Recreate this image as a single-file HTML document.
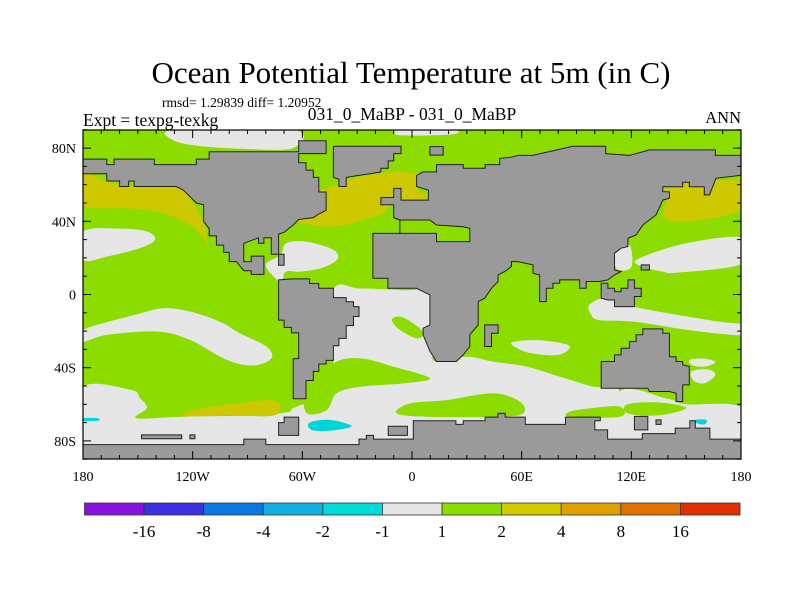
<!DOCTYPE html>
<html><head><meta charset="utf-8"><style>
html,body{margin:0;padding:0;background:#fff;}
svg{display:block;font-family:"Liberation Serif",serif;}
</style></head><body>
<svg id="chart" width="800" height="600" viewBox="0 0 800 600" xmlns="http://www.w3.org/2000/svg">
<text x="411" y="83" font-size="31" text-anchor="middle">Ocean Potential Temperature at 5m (in C)</text>
<text x="162" y="107" font-size="13.5">rmsd= 1.29839 diff= 1.20952</text>
<text x="83" y="126" font-size="17.5">Expt = texpg-texkg</text>
<text x="412" y="120" font-size="17.5" text-anchor="middle">031_0_MaBP - 031_0_MaBP</text>
<text x="741" y="123" font-size="16.5" text-anchor="end">ANN</text>
<defs><clipPath id="plotclip"><rect x="83" y="130" width="658" height="329"/></clipPath></defs>
<g id="field" clip-path="url(#plotclip)"></g>
<g id="land" clip-path="url(#plotclip)"></g>
<g id="axes"></g>
<g id="cbar"></g>
</svg>
<script>
const levels = ["-16","-8","-4","-2","-1","1","2","4","8","16"];
const cbarColors = ["#8a10e0","#3a30e0","#0a78e0","#10b0e0","#00dcd8","#e6e6e6","#8cdc00","#d4cc00","#e0a000","#e07000","#e03000"];
const lonTicks = [-180,-120,-60,0,60,120,180];
const lonLabels = ["180","120W","60W","0","60E","120E","180"];
const latTicks = [80,40,0,-40,-80];
const latLabels = ["80N","40N","0","40S","80S"];

const GREEN="#8cdc00", WHITE="#e6e6e6", YELLOW="#cdc800", CYAN="#00d4d8", LAND="#9a9a9a";

const whiteArctic = [[-130,90],[-65,90],[-65,80],[-90,79.5],[-115,81],[-130,84]];
const whiteArctic2 = [[-6.6,90],[22,90],[22,87.5],[-6.6,87]];
const whiteNPacW = [[-180,34.4],[-160,36],[-145,34.4],[-140.6,29.8],[-149,25.3],[-167,20.7],[-180,19]];
const whiteNPacE = [[124.4,19.8],[150,28],[181,31],[181,17],[146,12],[137,12.5],[124,16]];
const whiteJapan = [[110.8,25],[119,27],[120,15],[112,14]];
const whiteCarib = [[-80,16],[-72,21.6],[-68.8,28],[-57.8,28.9],[-43,24.4],[-41,19],[-50,14.3],[-61,12.5],[-69,12.5],[-72,7]];
const whiteSAtl = [[-43,2.4],[-28.4,3.3],[-6.5,2.4],[9.9,0.6],[9.9,-19.4],[11,-32.2],[13.5,-36.7],[29.9,-34],[44.5,-36.7],[62.7,-39.4],[81,-44.9],[99.2,-50.4],[113.8,-53.1],[113.8,-83],[-83,-83],[-83,-65.9],[-72,-64.9],[-57.6,-61.3],[-44.8,-54],[-43,-35.8]];
const whiteSEPac = [[-180,-19.3],[-151.6,-11.1],[-136.1,-7.5],[-121.5,-9.3],[-105.2,-14.8],[-94.2,-21.2],[-79.7,-28.4],[-76.9,-34.8],[-87,-38.8],[-101.5,-35.7],[-121.5,-24.8],[-139.7,-20.2],[-167,-22.1],[-180,-25.7]];
const whiteSPac = [[-181,-51.2],[-154,-52],[-148.8,-56.6],[-145,-62],[-150.6,-67.6],[-123.4,-66.7],[-72.4,-65.7],[-65,-62],[-57,-62],[-57,-85],[-181,-85]];
const whiteSInd = [[113.8,-53],[140,-57],[150,-60],[181,-62],[181,-85],[113.8,-85]];
const whiteIndBlob = [[55,-26],[70,-25],[86,-28],[80,-33],[65,-32],[57,-29]];
const whiteEqWPac = [[97,-5.7],[106,-2],[121,-6.6],[144.5,-11],[168,-14.8],[181,-16.6],[181,-22],[166,-21.2],[144.5,-18.4],[121,-14.8],[102.6,-14],[98,-11]];
const whiteAus1 = [[152,-35.7],[160,-35],[166,-37],[160,-39.4],[153,-38.5]];
const whiteAus2 = [[153,-42],[162,-41],[166,-44],[160,-48.5],[154,-47]];
const greenG1 = [[-57.6,-64.9],[-57.6,-52.2],[-43,-37.6],[-28.4,-34.9],[-10.2,-39.4],[9.9,-45.8],[-4.7,-48.6],[-28.4,-50.4],[-41.2,-54],[-46.6,-63.1]];
const greenG2 = [[-8.4,-64.9],[-1.1,-59.5],[19,-57.7],[44.5,-54],[59.1,-58.6],[60.9,-64.9],[48.2,-66.8],[8,-66.8]];
const greenG3 = [[86.4,-64],[99,-62],[113.8,-61.3],[113.8,-66.8],[86.4,-66.8]];
const greenG4 = [[-11.1,-14],[-6.5,-12.1],[0.8,-15.8],[6.2,-21.2],[2.6,-24],[-6.5,-19.4]];
const greenG5 = [[118,-60],[135,-59],[150,-62],[135,-66],[118,-65]];
const yellowNPacW = [[-181,66],[-167,61.7],[-152,59],[-129,59],[-121.5,52.6],[-114.3,39.8],[-111.5,27],[-114,31],[-121.5,38],[-136,44.4],[-154.5,47],[-181,49]];
const yellowNPacE = [[139,50.7],[141,59.8],[181,61.7],[181,47],[157,40.5],[139,41]];
const yellowNAtl = [[-62,40],[-54,45],[-51,56],[-43,59],[-36,62],[-25,65],[-10,67],[3,66],[6,62],[3,57],[9,54],[5,51],[-2,49],[-13,48],[-16,44],[-26,41],[-36,38],[-47,37],[-58,38.5]];
const yellowSPac = [[-123,-64],[-100,-60],[-75,-58],[-75,-66],[-100,-66],[-123,-66.5]];
const cyanWeddell = [[-56,-70],[-45,-68.5],[-33,-72],[-45,-74.5],[-55,-74]];
const cyanRoss = [[-181,-67.6],[-172,-67.6],[-172,-69],[-181,-69]];
const cyanEast = [[155,-68.5],[161,-68.5],[160,-71],[155,-70]];

const landNA = [[-181,74],[-167,74],[-167,71],[-163,71],[-163,74],[-141,74],[-141,71],[-118,71],[-118,74],[-111,74],[-111,78],[-62,78],[-62,84],[-47,84],[-47,77],[-62,77],[-62,72],[-58,72],[-58,68],[-54,68],[-54,64],[-51,64],[-51,56],[-47,56],[-47,46],[-51,44],[-54,42],[-62,41],[-65,38],[-70,34],[-73,33],[-73,22],[-77,22],[-77,31],[-81,31],[-81,28],[-84,28],[-84,31],[-92,28],[-92,18],[-88,18],[-88,21],[-81,21],[-81,11],[-88,11],[-88,13],[-92,13],[-96,18],[-100,18],[-100,23],[-103,23],[-103,27],[-107,27],[-107,32],[-111,32],[-111,36],[-114,40],[-114,49],[-118,50],[-121,53],[-125,57],[-129,59],[-152,59],[-152,62],[-155,62],[-155,59],[-160,59],[-160,62],[-167,62],[-167,66],[-181,66]];
const landCuba = [[-73,22],[-70,22],[-70,16],[-73,16]];
const landSA = [[-73,8],[-65,8.5],[-56,8.5],[-56,6],[-51,6],[-51,3.4],[-43,3.4],[-43,-1.7],[-36,-1.7],[-36,-4],[-32,-4],[-32,-6.6],[-29,-6.6],[-29,-12],[-32,-12],[-32,-17],[-36,-17],[-36,-24],[-40,-24],[-40,-28],[-43,-28],[-43,-36],[-47,-36],[-47,-38],[-51,-38],[-51,-42],[-54,-42],[-54,-47],[-58,-47],[-58,-57],[-65,-57],[-65,-35],[-62,-35],[-62,-21],[-66,-21],[-66,-18],[-70,-18],[-70,-14],[-73,-14]];
const landGreenland = [[-43,77],[-43,81],[-6,81],[-6,77],[-10,77],[-10,73],[-13,73],[-13,69],[-17,69],[-17,67],[-23,66],[-30,65],[-36,64],[-36,59],[-40,59],[-40,63],[-43,64]];
const landEurasiaAfrica = [[-21.4,33.4],[-21.4,8.9],[-13.2,8.9],[-13.2,3.4],[2.5,3.4],[6.1,1.6],[9.8,-0.2],[9.8,-16.6],[6.1,-18.4],[6.1,-22],[9.8,-31],[13.4,-36.6],[24.3,-36.6],[28,-33],[31.6,-28.4],[31.6,-22],[36.2,-16.6],[36.2,-3.9],[39.8,-2],[43.5,3.4],[47.1,7.1],[47.1,10.7],[50.7,12.5],[54.4,15.3],[54.4,18],[58,18],[66.2,16.2],[66.2,11.6],[69.8,10.7],[69.8,-3.9],[73.5,-3.9],[73.5,3.4],[77.1,3.4],[77.1,6.2],[80.8,6.2],[80.8,8],[91.7,8],[91.7,3.4],[95.3,3.4],[95.3,7.1],[102.6,7.1],[107.2,8],[110.8,10.7],[114.4,12.5],[110.8,13.4],[110.8,22.5],[114.4,25.3],[118.1,26.2],[118.1,30.7],[122.6,32.5],[126.3,38],[129.9,40.7],[133.5,43.5],[137.2,51.6],[140.8,52.6],[140.8,56.2],[137.2,56.2],[137.2,58.9],[148.1,58.9],[148.1,61.3],[151.7,61.3],[151.7,58.9],[159.9,58.9],[159.9,54.4],[162.7,54.4],[164.5,58.9],[166.3,63.5],[181,65.3],[181,76],[166,76],[166,79],[130,79],[119,76],[106,77],[106,81],[88,81],[66,76],[58,76],[54,75],[48,74.4],[48,71],[40,71],[40,69],[28,69],[28,71],[13.4,71],[13.4,67],[6,67],[2.5,65],[2.5,59],[9,57],[9,51.6],[-1,51.6],[-6,51.6],[-6,58],[-10,58],[-10,53],[-17,53],[-17,49],[-10,49],[-10,42],[-6.6,40.7],[-6.6,33.4]];
const seaMed = [[-6.6,40.7],[9.8,40.7],[13.4,38],[28,37],[31.6,36.2],[31.6,28.9],[13.4,28.9],[13.4,33.4],[-6.6,33.4]];
const landSvalbard = [[9.8,80.8],[17,80.8],[17,76.2],[9.8,76.2]];
const landMadagascar = [[39.8,-16.6],[47.1,-16.6],[47.1,-21.2],[43.5,-21.2],[43.5,-28.4],[39.8,-28.4]];
const landIndonesia = [[103.5,6.2],[107.2,6.2],[107.2,3.4],[110.8,3.4],[110.8,1.6],[114.4,1.6],[114.4,3.4],[118.1,3.4],[118.1,8],[121.7,8],[121.7,3.4],[125.4,3.4],[125.4,-1.1],[121.7,-1.1],[121.7,-6.6],[110.8,-6.6],[110.8,-3],[107.2,-3],[103.5,-2]];
const landPhil = [[125.4,16.2],[129.9,16.2],[129.9,13.4],[125.4,13.4]];
const landAustralia = [[103.5,-36.6],[110.8,-36.6],[110.8,-33],[114.4,-33],[114.4,-29.4],[119,-29.4],[119,-25.7],[122.6,-25.7],[122.6,-22],[126.3,-22],[126.3,-18.8],[137.2,-18.8],[137.2,-21.2],[140.8,-21.2],[140.8,-34],[144.5,-34],[144.5,-36.6],[148.1,-36.6],[148.1,-38.4],[151.7,-39.3],[151.7,-49.4],[148.1,-49.4],[148.1,-58.5],[144.5,-58.5],[144.5,-54],[140.8,-53],[129.9,-53],[129,-51.2],[103.5,-51.2]];
const landAntarctica = [[-181,-82],[-92,-82],[-92,-79],[-80,-79],[-80,-82],[-29,-82],[-29,-79],[-25,-79],[-25,-77],[-21,-77],[-21,-79],[0.7,-79],[0.7,-69],[24,-69],[24,-71],[28,-71],[28,-69],[40,-69],[40,-67],[47,-67],[47,-65],[51,-65],[51,-67],[62,-67],[62,-71],[84,-71],[84,-67],[103,-67],[103,-69],[100,-69],[100,-74],[107,-74],[107,-79],[126,-79],[126,-76],[144,-76],[144,-73],[152,-73],[152,-69],[155,-69],[155,-73],[163,-73],[163,-79],[181,-79],[181,-92],[-181,-92]];
const landPeninsula = [[-73,-70],[-70,-70],[-70,-67],[-62,-67],[-62,-77],[-73,-77]];
const landIsleA = [[-13,-72],[-2.5,-72],[-2.5,-77],[-13,-77]];
const landIsleB = [[-148,-76.7],[-126,-76.7],[-126,-78.8],[-148,-78.8]];
const landIsleC = [[-121.5,-76.7],[-118.8,-76.7],[-118.8,-78.8],[-121.5,-78.8]];
const landIsleD = [[121.7,-66.6],[129,-66.6],[129,-74],[121.7,-74]];
const landIsleE = [[133.5,-68.5],[136.3,-68.5],[136.3,-71],[133.5,-71]];

const X0=83, X1=741, YEQ=294.5, KY=1.83;
function xOf(lon){return X0+(lon+180)*(X1-X0)/360;}
function yOf(lat){return YEQ-lat*KY;}
const NS="http://www.w3.org/2000/svg";
function mk(tag,attrs,parent){const e=document.createElementNS(NS,tag);for(const k in attrs)e.setAttribute(k,attrs[k]);parent.appendChild(e);return e;}
function pts(arr){return arr.map(p=>[xOf(p[0]),yOf(p[1])]);}
function smoothPath(arr){
  const p=pts(arr),n=p.length;let d="M"+p[0][0].toFixed(1)+","+p[0][1].toFixed(1);
  for(let i=0;i<n;i++){const p0=p[(i-1+n)%n],p1=p[i],p2=p[(i+1)%n],p3=p[(i+2)%n];
    const c1=[p1[0]+(p2[0]-p0[0])/6,p1[1]+(p2[1]-p0[1])/6],c2=[p2[0]-(p3[0]-p1[0])/6,p2[1]-(p3[1]-p1[1])/6];
    d+="C"+c1[0].toFixed(1)+","+c1[1].toFixed(1)+" "+c2[0].toFixed(1)+","+c2[1].toFixed(1)+" "+p2[0].toFixed(1)+","+p2[1].toFixed(1);}
  return d+"Z";}
function polyPath(arr){return "M"+pts(arr).map(q=>q[0].toFixed(1)+","+q[1].toFixed(1)).join("L")+"Z";}

const field=document.getElementById('field');
const bg=mk('rect',{x:83,y:130,width:658,height:329,fill:GREEN},field);


const blobs=[
 ["white-arctic",whiteArctic,WHITE],["white-arctic-2",whiteArctic2,WHITE],["white-npac-west",whiteNPacW,WHITE],["white-npac-east",whiteNPacE,WHITE],["white-japan",whiteJapan,WHITE],["white-caribbean",whiteCarib,WHITE],
 ["white-south-atlantic",whiteSAtl,WHITE],["white-se-pacific",whiteSEPac,WHITE],["white-south-pacific",whiteSPac,WHITE],["white-south-indian",whiteSInd,WHITE],["white-indian-blob",whiteIndBlob,WHITE],["white-eq-wpac",whiteEqWPac,WHITE],["white-aus-1",whiteAus1,WHITE],["white-aus-2",whiteAus2,WHITE],
 ["green-blob-1",greenG1,GREEN],["green-blob-2",greenG2,GREEN],["green-blob-3",greenG3,GREEN],["green-blob-4",greenG4,GREEN],["green-blob-5",greenG5,GREEN],
 ["yellow-npac-west",yellowNPacW,YELLOW],["yellow-npac-east",yellowNPacE,YELLOW],["yellow-natl",yellowNAtl,YELLOW],["yellow-spac",yellowSPac,YELLOW],
 ["cyan-weddell",cyanWeddell,CYAN],["cyan-ross",cyanRoss,CYAN],["cyan-east",cyanEast,CYAN]];
blobs.forEach(b=>{const e=mk('path',{d:smoothPath(b[1]),fill:b[2]},field);
 
 });

const land=document.getElementById('land');
const lands=[["north-america",landNA,LAND],["cuba",landCuba,LAND],["south-america",landSA,LAND],["greenland",landGreenland,LAND],["eurasia-africa",landEurasiaAfrica,LAND],["mediterranean",seaMed,GREEN],["svalbard",landSvalbard,LAND],["madagascar",landMadagascar,LAND],["indonesia",landIndonesia,LAND],["philippines",landPhil,LAND],["australia",landAustralia,LAND],["antarctica",landAntarctica,LAND],["antarctic-peninsula",landPeninsula,LAND],["island-a",landIsleA,LAND],["island-b",landIsleB,LAND],["island-c",landIsleC,LAND],["island-d",landIsleD,LAND],["island-e",landIsleE,LAND]];
lands.forEach(l=>{const e=mk('path',{d:polyPath(l[1]),fill:l[2],stroke:"#222","stroke-width":1},land);
 
 });

const ax=document.getElementById('axes');
const frame=mk('rect',{x:83,y:130,width:658,height:329,fill:"none",stroke:"#000","stroke-width":1.2},ax);


for(let lon=-180;lon<=180;lon+=10){const x=xOf(lon),L=(lon%60===0)?8:4;
 mk('line',{x1:x,y1:130,x2:x,y2:130+L,stroke:"#000"},ax);
 mk('line',{x1:x,y1:459,x2:x,y2:459-L,stroke:"#000"},ax);}
for(let lat=-90;lat<=90;lat+=10){const y=yOf(lat),L=(lat%40===0)?8:4;
 mk('line',{x1:83,y1:y,x2:83+L,y2:y,stroke:"#000"},ax);
 mk('line',{x1:741,y1:y,x2:741-L,y2:y,stroke:"#000"},ax);}
lonTicks.forEach((lon,i)=>{const t=mk('text',{x:xOf(lon),y:481,"font-size":14,"text-anchor":"middle"},ax);t.textContent=lonLabels[i];
 
 });
latTicks.forEach((lat,i)=>{const t=mk('text',{x:76,y:yOf(lat)+5,"font-size":14,"text-anchor":"end"},ax);t.textContent=latLabels[i];
 
 });

const cb=document.getElementById('cbar');
const cbx0=84.5,cbx1=740,cbw=(cbx1-cbx0)/cbarColors.length;
cbarColors.forEach((c,i)=>{const r=mk('rect',{x:cbx0+i*cbw,y:503,width:cbw,height:12,fill:c,stroke:"#333","stroke-width":0.8},cb);
 
 });
levels.forEach((lv,i)=>{const t=mk('text',{x:cbx0+(i+1)*cbw,y:537,"font-size":17,"text-anchor":"middle"},cb);t.textContent=lv;
 
 });
</script>
</body></html>
